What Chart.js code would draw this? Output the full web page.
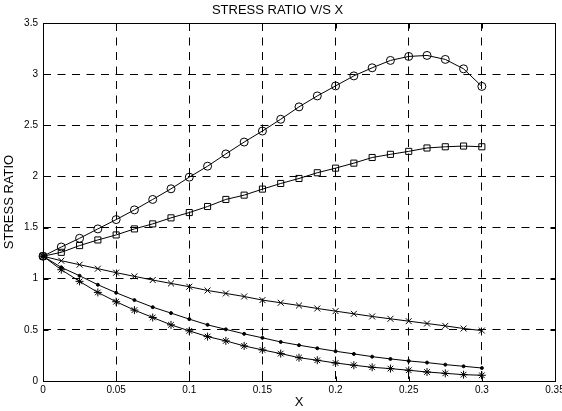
<!DOCTYPE html>
<html>
<head>
<meta charset="utf-8">
<script src="https://cdn.jsdelivr.net/npm/chart.js@4.4.1/dist/chart.umd.min.js"></script>
<style>
	html, body { margin: 0; padding: 0; background: #fff; }
	#wrap { width: 562px; height: 411px; }
</style>
</head>
<body>
<div id="wrap"><canvas id="graph" width="562" height="411"></canvas></div>
<script>
// X positions of the points
var xValues = [0, 0.0125, 0.025, 0.0375, 0.05, 0.0625, 0.075, 0.0875, 0.1, 0.1125, 0.125, 0.1375,
	0.15, 0.1625, 0.175, 0.1875, 0.2, 0.2125, 0.225, 0.2375, 0.25, 0.2625, 0.275, 0.2875, 0.3];

// series
var circleSeries = [1.22, 1.31, 1.395, 1.487, 1.578, 1.673, 1.775, 1.879, 1.993, 2.10, 2.22, 2.336,
	2.444, 2.559, 2.68, 2.787, 2.885, 2.983, 3.062, 3.134, 3.173, 3.183, 3.144, 3.052, 2.88];
var squareSeries = [1.22, 1.258, 1.324, 1.379, 1.428, 1.487, 1.536, 1.595, 1.647, 1.706, 1.775, 1.817,
	1.876, 1.931, 1.98, 2.036, 2.081, 2.13, 2.185, 2.216, 2.245, 2.278, 2.29, 2.297, 2.29];
var crossSeries = [1.22, 1.176, 1.137, 1.098, 1.059, 1.023, 0.987, 0.954, 0.922, 0.885, 0.856, 0.826,
	0.791, 0.765, 0.738, 0.709, 0.683, 0.657, 0.631, 0.608, 0.585, 0.562, 0.539, 0.513, 0.493];
var dotSeries = [1.22, 1.111, 1.029, 0.941, 0.863, 0.791, 0.722, 0.664, 0.605, 0.549, 0.505, 0.461,
	0.422, 0.382, 0.35, 0.32, 0.291, 0.265, 0.238, 0.216, 0.196, 0.18, 0.16, 0.144, 0.127];
var starSeries = [1.22, 1.088, 0.974, 0.866, 0.775, 0.693, 0.621, 0.549, 0.49, 0.434, 0.392, 0.343,
	0.304, 0.268, 0.228, 0.203, 0.176, 0.154, 0.134, 0.121, 0.105, 0.088, 0.075, 0.062, 0.056];

// tick labels
var xTicks = [0, 0.05, 0.1, 0.15, 0.2, 0.25, 0.3, 0.35];
var yTicks = [0, 0.5, 1, 1.5, 2, 2.5, 3, 3.5];

var FONT = "'Liberation Sans', Arial, sans-serif";

function toPoints(ys) {
	return ys.map(function(v, i) { return { x: xValues[i], y: v }; });
}

function series(data, style, radius, fill) {
	return {
		data: toPoints(data),
		borderColor: '#000',
		borderWidth: 1,
		pointStyle: style,
		pointRadius: radius,
		pointBorderColor: '#000',
		pointBorderWidth: 1,
		pointBackgroundColor: fill ? '#000' : 'rgba(0,0,0,0)',
		tension: 0,
		clip: false
	};
}

// box round the plot and inward tick marks (MATLAB style)
var boxPlugin = {
	id: 'box',
	beforeDatasetsDraw: function(chart) {
		var ctx = chart.ctx, a = chart.chartArea,
			xs = chart.scales.x, ys = chart.scales.y;
		var l = Math.round(a.left) + 0.5, r = Math.round(a.right) + 0.5,
			t = Math.round(a.top) + 0.5, b = Math.round(a.bottom) + 0.5;
		ctx.save();
		ctx.strokeStyle = '#000';
		ctx.lineWidth = 1;
		ctx.setLineDash([]);
		ctx.strokeRect(l, t, r - l, b - t);
		ctx.beginPath();
		xTicks.forEach(function(v) {
			var px = Math.round(xs.getPixelForValue(v)) + 0.5;
			ctx.moveTo(px, b); ctx.lineTo(px, b - 5);
			ctx.moveTo(px, t); ctx.lineTo(px, t + 5);
		});
		yTicks.forEach(function(v) {
			var py = Math.round(ys.getPixelForValue(v)) + 0.5;
			ctx.moveTo(l, py); ctx.lineTo(l + 5, py);
			ctx.moveTo(r, py); ctx.lineTo(r - 5, py);
		});
		ctx.stroke();
		ctx.restore();
	}
};

var chart = new Chart(document.getElementById('graph'), {
	type: 'line',
	data: {
		datasets: [
			series(circleSeries, 'circle', 4, false),
			series(squareSeries, 'rect', 4.3, false),
			series(crossSeries, 'crossRot', 4.2, false),
			series(dotSeries, 'circle', 1.5, true),
			series(starSeries, 'star', 4, false)
		]
	},
	options: {
		responsive: false,
		animation: false,
		devicePixelRatio: 1,
		layout: { padding: { left: 0, right: 7, top: 0, bottom: 0 } },
		plugins: {
			legend: { display: false },
			tooltip: { enabled: false },
			title: {
				display: true,
				text: 'STRESS RATIO V/S X',
				color: '#000',
				font: { family: FONT, size: 13, weight: 'normal' },
				padding: { top: 3, bottom: 4.4 }
			}
		},
		scales: {
			x: {
				type: 'linear',
				min: 0,
				max: 0.35,
				afterBuildTicks: function(s) { s.ticks = xTicks.map(function(v) { return { value: v }; }); },
				afterFit: function(s) { s.height = 30; s.paddingRight = 0; s.paddingLeft = 0; },
				grid: { color: '#000', lineWidth: 1, drawTicks: false },
				border: { display: false, dash: [8, 6.5] },
				ticks: {
					color: '#000',
					padding: 3,
					maxRotation: 0,
					autoSkip: false,
					font: { family: FONT, size: 10 },
					callback: function(v) { return String(v); }
				},
				title: {
					display: true,
					text: 'X',
					color: '#000',
					font: { family: FONT, size: 13 },
					padding: { top: 0, bottom: 1 }
				}
			},
			y: {
				min: 0,
				max: 3.5,
				afterBuildTicks: function(s) { s.ticks = yTicks.map(function(v) { return { value: v }; }); },
				afterFit: function(s) { s.width = 43; s.paddingTop = 0; s.paddingBottom = 0; },
				grid: { color: '#000', lineWidth: 1, drawTicks: false },
				border: { display: false, dash: [8, 6.5] },
				ticks: {
					color: '#000',
					padding: 5,
					autoSkip: false,
					font: { family: FONT, size: 10 },
					callback: function(v) { return String(v); }
				},
				title: {
					display: true,
					text: 'STRESS RATIO',
					color: '#000',
					font: { family: FONT, size: 13 },
					padding: { top: 2, bottom: 0 }
				}
			}
		}
	},
	plugins: [boxPlugin]
});
</script>
</body>
</html>
